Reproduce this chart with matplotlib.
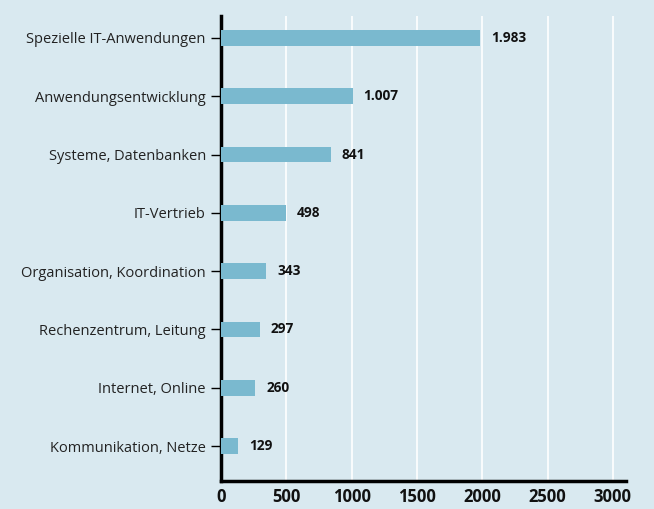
import matplotlib.pyplot as plt

categories = ["Spezielle IT-Anwendungen", "Anwendungsentwicklung", "Systeme, Datenbanken",
              "IT-Vertrieb", "Organisation, Koordination", "Rechenzentrum, Leitung",
              "Internet, Online", "Kommunikation, Netze"]
values = [1983, 1007, 841, 498, 343, 297, 260, 129]
value_labels = ["1.983", "1.007", "841", "498", "343", "297", "260", "129"]
xticks = [0, 500, 1000, 1500, 2000, 2500, 3000]

bg = "#d9e9f0"
bar_color = "#7ab9cf"

plt.rcParams['font.family'] = ['Open Sans', 'DejaVu Sans']

fig = plt.figure(figsize=(6.54, 5.09), dpi=100)
fig.patch.set_facecolor(bg)
ax = fig.add_axes([0.338, 0.055, 0.619, 0.9136])
ax.set_facecolor(bg)

n = len(categories)
ypos = list(range(n - 1, -1, -1))
ax.barh(ypos, values, height=0.27, color=bar_color, zorder=3)
for y, v, lab in zip(ypos, values, value_labels):
    ax.annotate(lab, (v, y), xytext=(8, 0), textcoords='offset points',
                va='center', ha='left', fontsize=9.8, fontweight='bold', color='#111111')

ax.set_xlim(0, 3100)
ax.set_ylim(-0.6, n - 1 + 0.377)
ax.set_yticks(ypos)
ax.set_yticklabels(categories, fontsize=10.5, color='#222222')
ax.set_xticks(xticks)
ax.set_xticklabels([str(t) for t in xticks], fontsize=12, fontweight='bold', color='#111111')
ax.grid(axis='x', color='white', linewidth=1.2, zorder=0)
ax.set_axisbelow(True)
for s in ['top', 'right']:
    ax.spines[s].set_visible(False)
for s in ['left', 'bottom']:
    ax.spines[s].set_linewidth(2.5)
    ax.spines[s].set_color('black')
ax.tick_params(axis='y', length=7.5, width=1, color='black', pad=3.5)
ax.tick_params(axis='x', length=0, pad=5)

fig.savefig("out.png", dpi=100, facecolor=bg)
